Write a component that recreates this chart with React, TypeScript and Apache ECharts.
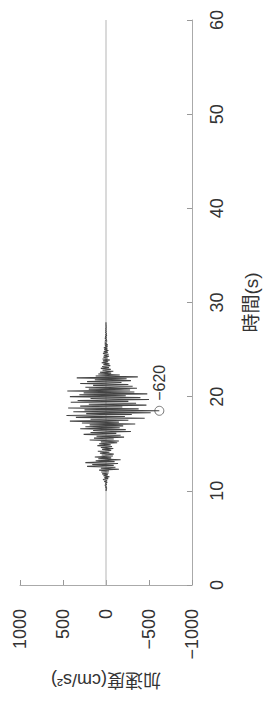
import React, { useEffect, useRef } from "react";
import * as echarts from "echarts";

// Time axis (s) and acceleration axis (cm/s²) ticks
const timeTicks = [0, 10, 20, 30, 40, 50, 60];
const accTicks = [-1000, -500, 0, 500, 1000];

// Recorded waveform: samples every 0.1 s starting at 10.0 s
const waveStart = 10.0;
const waveStep = 0.1;
const waveValues = [
  4, -6, 3, -9, 7, -5, 12, -8, 6, -14,
  20, -12, 35, -25, 18, -40, 30, -22, 45, -30,
  55, -35, 80, -150, 60, -110, 220, -90, 160, -140,
  240, -100, 120, -170, 90, -60, 130, -80, 50, -90,
  70, -40, 95, -60, 45, -85, 60, -70, 100, -55,
  80, -130, 60, -150, 190, -90, 140, -210, 110, -170,
  260, -120, 180, -290, 150, -230, 300, -160, 240, -200,
  190, -340, 280, -150, 420, -260, 180, -450, 350, -220,
  460, -300, 230, -520, 380, -620, 250, -380, 440, -190,
  300, -470, 200, -350, 410, -260, 330, -500, 180, -400,
  420, -230, 310, -480, 260, -330, 450, -280, 200, -360,
  240, -310, 150, -260, 300, -180, 220, -290, 130, -240,
  340, -370, 120, -160, 90, -60, 70, -85, 40, -55,
  60, -35, 45, -50, 30, -40, 50, -25, 35, -45,
  40, -20, 30, -35, 25, -30, 35, -20, 25, -28,
  20, -15, 25, -18, 12, -20, 15, -10, 14, -12,
  10, -8, 12, -6, 8, -9, 5, -7, 6, -4,
  5, -3, 4, -4, 2, -3, 2, -1, 1, 0,
];

// Baseline (quiet part of the record)
const baseline = [
  [0, 0],
  [0, 60],
];

// Peak value annotation
const peakTime = 18.5;
const peakValue = -620;

const FONT = "'Liberation Sans', Arial, 'Noto Sans CJK JP', sans-serif";
const minus = (v: number) => String(v).replace("-", "\u2212");

export default function App() {
  const ref = useRef<HTMLDivElement>(null);

  useEffect(() => {
    if (!ref.current) return;
    const chart = echarts.init(ref.current, undefined, { renderer: "svg" });
    const wave = waveValues.map((v, i) => [v, +(waveStart + i * waveStep).toFixed(2)]);

    chart.setOption({
      animation: false,
      backgroundColor: "#ffffff",
      grid: { left: 20, right: 76, top: 20, bottom: 117, containLabel: false },
      xAxis: {
        type: "value",
        min: accTicks[0],
        max: accTicks[accTicks.length - 1],
        interval: 500,
        inverse: true,
        position: "bottom",
        name: "加速度(cm/s²)",
        nameLocation: "middle",
        nameRotate: 180,
        nameGap: 86,
        nameTextStyle: { fontSize: 18, color: "#333", fontFamily: FONT },
        axisLine: { show: true, onZero: false, lineStyle: { color: "#aaa", width: 1 } },
        axisTick: { show: true, inside: true, length: 5, lineStyle: { color: "#999" } },
        axisLabel: {
          rotate: 90,
          margin: 24,
          fontSize: 18,
          color: "#333",
          fontFamily: FONT,
          formatter: (v: number) => minus(v),
        },
        splitLine: { show: false },
      },
      yAxis: {
        type: "value",
        min: timeTicks[0],
        max: timeTicks[timeTicks.length - 1],
        interval: 10,
        position: "right",
        name: "時間(s)",
        nameLocation: "middle",
        nameRotate: 90,
        nameGap: 50,
        nameTextStyle: { fontSize: 19, color: "#333", fontFamily: FONT },
        axisLine: { show: true, onZero: false, lineStyle: { color: "#aaa", width: 1 } },
        axisTick: { show: true, inside: true, length: 5, lineStyle: { color: "#999" } },
        axisLabel: {
          rotate: 90,
          margin: 16,
          fontSize: 18,
          color: "#333",
          fontFamily: FONT,
        },
        splitLine: { show: false },
      },
      series: [
        {
          type: "line",
          data: baseline,
          showSymbol: false,
          lineStyle: { color: "#b5b5b5", width: 1 },
          silent: true,
        },
        {
          type: "line",
          data: wave,
          showSymbol: false,
          lineStyle: { color: "#444", width: 1.1 },
          silent: true,
        },
        {
          type: "scatter",
          data: [[peakValue, peakTime]],
          symbol: "circle",
          symbolSize: 9,
          itemStyle: { color: "#ffffff", borderColor: "#555", borderWidth: 1 },
          silent: true,
        },
      ],
    });

    const p = chart.convertToPixel({ gridIndex: 0 }, [peakValue, peakTime]) as number[];
    chart.setOption({
      graphic: [
        {
          type: "text",
          x: p[0],
          y: p[1] - 28,
          rotation: Math.PI / 2,
          silent: true,
          style: {
            text: minus(peakValue),
            align: "center",
            verticalAlign: "middle",
            fontSize: 16,
            fill: "#333",
            fontFamily: FONT,
          },
        },
      ],
    });

    return () => chart.dispose();
  }, []);

  return (
    <div
      ref={ref}
      style={{ position: "fixed", left: 0, top: 0, width: 269, height: 702, background: "#fff" }}
    />
  );
}
